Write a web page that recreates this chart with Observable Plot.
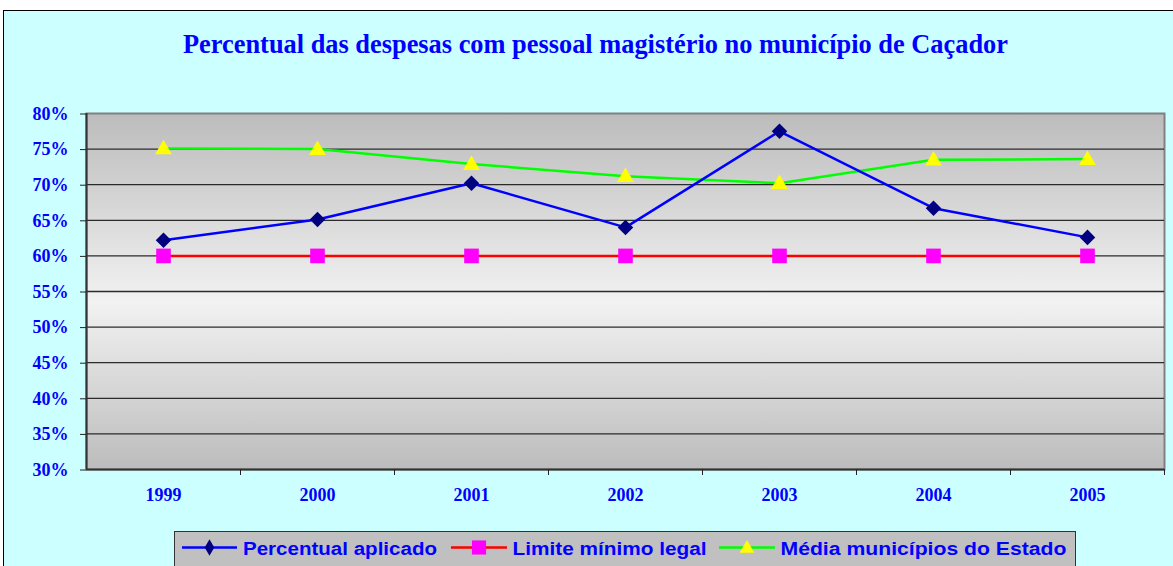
<!DOCTYPE html>
<html>
<head>
<meta charset="utf-8">
<script src="https://cdn.jsdelivr.net/npm/d3@7"></script>
<script src="https://cdn.jsdelivr.net/npm/@observablehq/plot@0.6"></script>
<style>
  html, body { margin: 0; padding: 0; background: #ffffff; width: 1173px; height: 566px; overflow: hidden; }
  #frame { position: absolute; left: 3px; top: 10px; width: 1190px; height: 600px; background: #ccffff; border: 1.5px solid #000; box-sizing: border-box; }
  #chart { position: absolute; left: 0; top: 0; width: 1173px; height: 530px; }
  #chart svg { position: absolute; left: 0; top: 0; max-width: none; }
  #legendBox { position: absolute; left: 174px; top: 531px; width: 902px; height: 50px; background: #c0c0c0; border: 1.5px solid #333; box-sizing: border-box; }
  #overlay { position: absolute; left: 0; top: 0; }
</style>
</head>
<body>
<div id="frame"></div>
<div id="chart"></div>
<div id="legendBox"></div>
<svg id="overlay" width="1173" height="566"></svg>
<script>
// ---- data ----
const titleText = "Percentual das despesas com pessoal magistério no município de Caçador";
const years = ["1999", "2000", "2001", "2002", "2003", "2004", "2005"];
const percentualAplicado = [62.2, 65.1, 70.2, 64.0, 77.5, 66.7, 62.6];
const limiteMinimo = [60, 60, 60, 60, 60, 60, 60];
const mediaMunicipios = [75.1, 75.0, 72.9, 71.2, 70.2, 73.5, 73.6];
const yTicks = [30, 35, 40, 45, 50, 55, 60, 65, 70, 75, 80];
const gridTicks = [35, 40, 45, 50, 55, 60, 65, 70, 75];
const seriesNames = ["Percentual aplicado", "Limite mínimo legal", "Média municípios do Estado"];

const blue = "#0000ff";
const serif = "'Liberation Serif', 'Times New Roman', serif";
const sans = "'Liberation Sans', Arial, sans-serif";

const W = 1173, H = 530;
const mL = 86, mR = 9, mT = 113, mB = 61;
const half = (W - mL - mR) / years.length / 2;

const toRows = vals => years.map((y, i) => ({year: y, value: vals[i]}));
const rP = toRows(percentualAplicado);
const rL = toRows(limiteMinimo);
const rM = toRows(mediaMunicipios);

const chart = Plot.plot({
  width: W, height: H,
  marginLeft: mL, marginRight: mR, marginTop: mT, marginBottom: mB,
  style: {background: "transparent", overflow: "visible", maxWidth: "none"},
  x: {type: "point", domain: years, padding: 0.5, label: null},
  y: {domain: [30, 80], label: null},
  marks: [
    Plot.frame({fill: "url(#plotBg)", stroke: "#808080", strokeWidth: 2}),
    Plot.ruleY(gridTicks, {stroke: "#2b2b2b", strokeWidth: 1.3}),
    Plot.ruleY([30], {stroke: "#333", strokeWidth: 2}),
    Plot.ruleX([years[0]], {dx: -half, stroke: "#333", strokeWidth: 2}),
    Plot.axisY(yTicks, {label: null, tickSize: 6, tickPadding: 12, tickFormat: d => d + "%", stroke: "#222", fill: blue,
      fontSize: 18, fontWeight: "bold", fontFamily: serif, dy: 0.5}),
    Plot.axisX(years, {label: null, tickSize: 6, tickFormat: () => "", dx: half, stroke: "#222"}),
    Plot.axisX(years, {label: null, tickSize: 0, tickPadding: 19, fill: blue, fontSize: 18, fontWeight: "bold", fontFamily: serif}),
    Plot.line(rL, {x: "year", y: "value", stroke: "#ff0000", strokeWidth: 2.5}),
    Plot.line(rM, {x: "year", y: "value", stroke: "#00ff00", strokeWidth: 2.5}),
    Plot.line(rP, {x: "year", y: "value", stroke: "#0000ff", strokeWidth: 2.5}),
    Plot.dot(rL, {x: "year", y: "value", symbol: "square2", r: 9.3, fill: "#ff00ff", stroke: "none"}),
    Plot.dot(rM, {x: "year", y: "value", symbol: "triangle2", r: 8, fill: "#ffff00", stroke: "none", dy: 1}),
    Plot.dot(rP, {x: "year", y: "value", symbol: "diamond2", r: 7, fill: "#000080", stroke: "none"})
  ]
});

const svgSel = d3.select(chart);
const grad = svgSel.insert("defs", ":first-child").append("linearGradient")
  .attr("id", "plotBg").attr("x1", 0).attr("y1", 0).attr("x2", 0).attr("y2", 1);
grad.append("stop").attr("offset", "0%").attr("stop-color", "#bcbcbc");
grad.append("stop").attr("offset", "53%").attr("stop-color", "#f2f2f2");
grad.append("stop").attr("offset", "100%").attr("stop-color", "#bcbcbc");
document.getElementById("chart").appendChild(chart);

// ---- title and legend overlay ----
const ov = d3.select("#overlay");
ov.append("text")
  .attr("x", 595.5).attr("y", 53)
  .attr("text-anchor", "middle")
  .attr("textLength", 825).attr("lengthAdjust", "spacingAndGlyphs")
  .attr("font-family", serif).attr("font-weight", "bold").attr("font-size", 27)
  .attr("fill", blue)
  .text(titleText);

const legendItems = [
  {name: seriesNames[0], line: "#0000ff", fill: "#000080", sym: d3.symbolDiamond, size: 80, x0: 182, x1: 237, tx: 243, tw: 194},
  {name: seriesNames[1], line: "#ff0000", fill: "#ff00ff", sym: d3.symbolSquare, size: 200, x0: 451, x1: 507, tx: 512.5, tw: 194},
  {name: seriesNames[2], line: "#00ff00", fill: "#ffff00", sym: d3.symbolTriangle, size: 95, x0: 719, x1: 775, tx: 780.5, tw: 286}
];
const ly = 547.5;
legendItems.forEach(it => {
  ov.append("line").attr("x1", it.x0).attr("x2", it.x1).attr("y1", ly).attr("y2", ly)
    .attr("stroke", it.line).attr("stroke-width", 2.5);
  ov.append("path").attr("d", d3.symbol(it.sym, it.size)())
    .attr("transform", `translate(${(it.x0 + it.x1) / 2},${ly + (it.sym === d3.symbolTriangle ? 1 : 0)})`)
    .attr("fill", it.fill);
  ov.append("text").attr("x", it.tx).attr("y", 554.5)
    .attr("textLength", it.tw).attr("lengthAdjust", "spacingAndGlyphs")
    .attr("font-family", sans).attr("font-weight", "bold").attr("font-size", 18)
    .attr("fill", blue).text(it.name);
});
</script>
</body>
</html>
